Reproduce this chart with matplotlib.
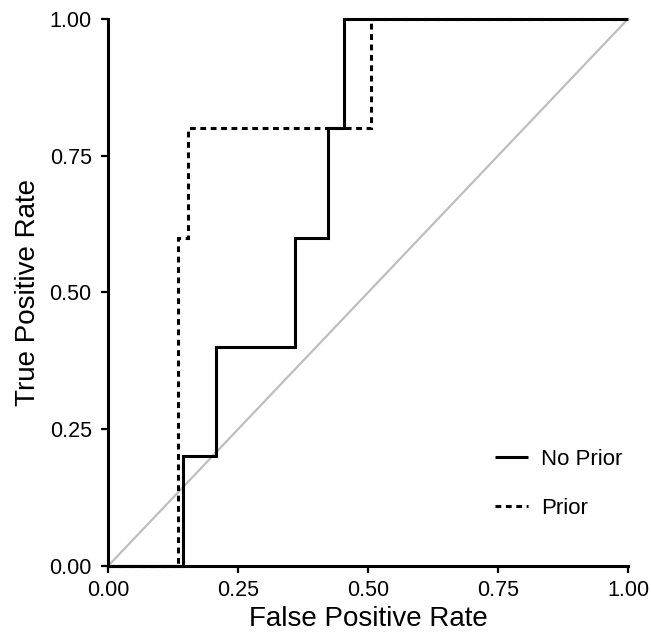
import matplotlib
matplotlib.use("Agg")
import matplotlib.pyplot as plt

# ROC curve points
fpr_no_prior = [0.0, 0.143, 0.143, 0.2065, 0.2065, 0.360, 0.360, 0.423, 0.423, 0.453, 0.453, 1.0]
tpr_no_prior = [0.0, 0.0, 0.2, 0.2, 0.4, 0.4, 0.6, 0.6, 0.8, 0.8, 1.0, 1.0]

fpr_prior = [0.0, 0.1334, 0.1334, 0.154, 0.154, 0.5046, 0.5046, 1.0]
tpr_prior = [0.0, 0.0, 0.6, 0.6, 0.8, 0.8, 1.0, 1.0]

ticks = [0.0, 0.25, 0.5, 0.75, 1.0]
tick_labels = ["0.00", "0.25", "0.50", "0.75", "1.00"]

plt.rcParams['font.family'] = ['Liberation Sans', 'DejaVu Sans']

fig = plt.figure(figsize=(6.51, 6.35), dpi=100)
ax = fig.add_axes([0.1664, 0.1091, 0.9647 - 0.1664, 0.9702 - 0.1091])

# chance diagonal
ax.plot([0, 1], [0, 1], color='#bebebe', lw=1.6, solid_capstyle='butt', zorder=1)

ax.plot(fpr_no_prior, tpr_no_prior, color='black', lw=2.2, label='No Prior',
        solid_joinstyle='miter', solid_capstyle='butt', clip_on=False, zorder=3)
ax.plot(fpr_prior, tpr_prior, color='black', lw=2.2, linestyle=(0, (1.9, 1.5)),
        label='Prior', dash_capstyle='butt', dash_joinstyle='miter', clip_on=False, zorder=2)

ax.set_xlim(0, 1)
ax.set_ylim(0, 1)
ax.set_xticks(ticks)
ax.set_xticklabels(tick_labels)
ax.set_yticks(ticks)
ax.set_yticklabels(tick_labels)
ax.tick_params(axis='both', labelsize=15.5, length=5, width=1.6, pad=5, colors='black')
ax.tick_params(axis='y', pad=7)
for side in ['top', 'right']:
    ax.spines[side].set_visible(False)
for side in ['left', 'bottom']:
    ax.spines[side].set_linewidth(2.2)

ax.set_xlabel('False Positive Rate', fontsize=20, labelpad=4)
ax.set_ylabel('True Positive Rate', fontsize=20, labelpad=6)

ax.legend(loc='center left', bbox_to_anchor=(0.745, 0.150), frameon=False,
          fontsize=16, handlelength=1.45, handletextpad=0.6, labelspacing=1.25,
          borderpad=0, borderaxespad=0)

fig.savefig('out.png', dpi=100)
